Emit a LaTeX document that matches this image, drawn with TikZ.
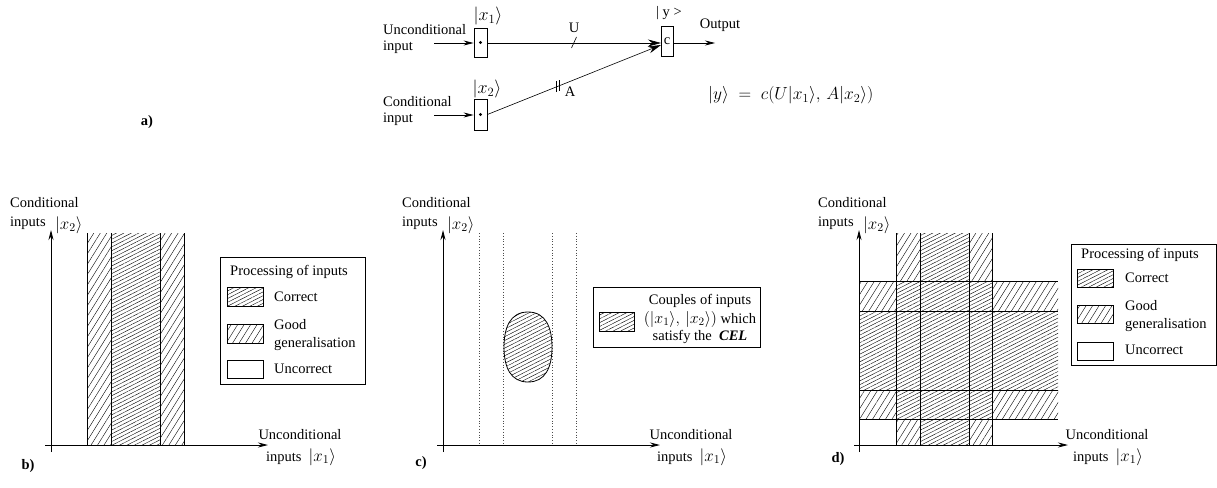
\RequirePackage{fix-cm}
\documentclass[tikz,border=0pt]{standalone}
\usepackage{fontspec}
\setmainfont{Liberation Serif}
\usetikzlibrary{arrows.meta,patterns.meta}
\newcommand\km[1]{{\fontsize{18}{18}\selectfont$#1$}}
\newcommand\kms[1]{{\fontsize{16}{16}\selectfont$#1$}}
\newcommand\kmy[1]{{\fontsize{17}{17}\selectfont$#1$}}
\begin{document}
\begin{tikzpicture}[x=1pt,y=-1pt,
  every node/.style={font=\fontsize{14.5}{18}\selectfont, inner sep=0pt},
  good/.style={pattern={Lines[angle=58,distance=5.5pt,line width=0.4pt]}},
  correct/.style={pattern={Lines[angle=27,distance=3.4pt,line width=0.4pt]}},
  ax/.style={line width=0.9pt,-{Stealth[length=10pt,width=5pt]}},
  band/.style={line width=0.9pt},
  dotline/.style={line width=0.8pt,dotted,black!70},
  boxn/.style={draw,line width=0.8pt,minimum width=13pt,inner sep=0pt},
  sw/.style={draw,line width=0.8pt},
  lgbox/.style={draw,line width=0.8pt},
  inarrow/.style={line width=0.8pt,-{Stealth[length=10pt,width=5pt]}},
  bigarrow/.style={line width=0.6pt,-{Stealth[length=13pt,width=7pt]}},
  lw/.style={anchor=west},
]
\useasboundingbox (0,0) rectangle (1217,487);

%%%%%%%%%%%%%%%% a)
\node[boxn,minimum height=29pt] (x1) at (480.5,42.5) {};
\fill (x1.center) circle[radius=1.6pt];
\node[boxn,minimum height=31pt] (x2) at (480.5,114.5) {};
\fill (x2.center) circle[radius=1.6pt];
\node[boxn,minimum width=12pt,minimum height=30pt] (c) at (667,41) {c};
\coordinate (uin) at (434,43);
\coordinate (cin) at (434,115);
\coordinate (out) at (715,43);
\coordinate (c1) at (661,43);
\coordinate (c2) at (661,45);
\draw[inarrow] (uin) -- (uin -| x1.west);
\draw[inarrow] (cin) -- (cin -| x2.west);
\draw[bigarrow] (uin -| x1.east) -- (c1);
\draw[bigarrow] (x2.east) -- (c2);
\draw[line width=0.8pt,-{Stealth[length=10pt,width=5pt]}] (c.east |- out) -- (out);
% ticks
\coordinate (tu1) at (571.5,48); \coordinate (tu2) at (576.5,37);
\draw[line width=0.6pt] (tu1) -- (tu2);
\coordinate (ta1) at (556,81); \coordinate (ta2) at (556,92);
\coordinate (tb1) at (559,80); \coordinate (tb2) at (559,91);
\draw[line width=0.6pt] (ta1) -- (ta2) (tb1) -- (tb2);
\node (lU) at (574,28) {U};
\node (lA) at (570,92) {A};
\node (lx1) at (488,16) {\km{|x_1\rangle}};
\node (lx2) at (487,89) {\km{|x_2\rangle}};
\node (ly) at (669,13) {| y >};
\node (lout) at (720,25) {Output};
\node[align=left,anchor=west,font=\fontsize{14.5}{16}\selectfont] (lui) at (383,39) {Unconditional\\input};
\node[align=left,anchor=west,font=\fontsize{14.5}{16}\selectfont] (lci) at (383,111) {Conditional\\input};
\node[anchor=west,font=\fontsize{17.5}{19}\selectfont] (eq) at (708,95) {$|y\rangle\;=\;c(U|x_1\rangle,\,A|x_2\rangle)$};
\node (la) at (147,122) {\textbf{a)}};

%%%%%%%%%%%%%%%% b)
\fill[good] (87,233) rectangle (111,445);
\fill[correct] (111,233) rectangle (160,445);
\fill[good] (160,233) rectangle (184,445);
\foreach \x in {87,111,160,184} \draw[band] (\x,233) -- (\x,445);
\coordinate (byb) at (51,452); \coordinate (byt) at (51,230);
\coordinate (bxl) at (45,445); \coordinate (bxr) at (268,445);
\draw[ax] (byb) -- (byt);
\draw[ax] (bxl) -- (bxr);
\node[lw] (bly1) at (10,203) {Conditional};
\node[lw] (bly2) at (10,223) {inputs};
\node[lw] (bly3) at (55,225) {\kmy{|x_2\rangle}};
\node (blx1) at (300,435) {Unconditional};
\node (blx2) at (301,457) {inputs \ \kmy{|x_1\rangle}};
\node (lb) at (28,466) {\textbf{b)}};
% legend b
\node[lgbox,minimum width=145pt,minimum height=127pt] (legb) at (292.5,320.5) {};
\node[anchor=west] (legbt) at (230,272) {Processing of inputs};
\node[sw,good,minimum width=36pt,minimum height=19pt] (bsw2) at (245,333.5) {};
\node[sw,correct,minimum width=36pt,minimum height=19pt] (bsw1) at (245,296.5) {};
\node[sw,minimum width=36pt,minimum height=18pt] (bsw3) at (245,369) {};
\node[anchor=west] (bt1) at (274,297) {Correct};
\node[anchor=west,align=left] (bt2) at (274,335) {Good\\generalisation};
\node[anchor=west] (bt3) at (274,369) {Uncorrect};

%%%%%%%%%%%%%%%% c)
\foreach \x in {479,503,552,576} \draw[dotline] (\x,233) -- (\x,445);
\coordinate (cyb) at (443,452); \coordinate (cyt) at (443,230);
\coordinate (cxl) at (437,445); \coordinate (cxr) at (660,445);
\draw[ax] (cyb) -- (cyt);
\draw[ax] (cxl) -- (cxr);
\draw[line width=0.8pt,correct] (528,312) .. controls (546,312) and (552,328) .. (552,347)
  .. controls (552,368) and (545,382) .. (528,382)
  .. controls (511,382) and (504,368) .. (504,347)
  .. controls (504,328) and (510,312) .. (528,312) -- cycle;
\node[lw] (cly1) at (402,203) {Conditional};
\node[lw] (cly2) at (402,223) {inputs};
\node[lw] (cly3) at (447,225) {\kmy{|x_2\rangle}};
\node (clx1) at (691,435) {Unconditional};
\node (clx2) at (692,457) {inputs \ \kmy{|x_1\rangle}};
\node (lc) at (421,463) {\textbf{c)}};
\node[lgbox,minimum width=167pt,minimum height=60pt] (legc) at (676.5,317) {};
\node[sw,correct,minimum width=35pt,minimum height=19pt] (csw) at (616.5,321.5) {};
\node (ct1) at (700,301) {Couples of inputs};
\node (ct2) at (700,319) {\kms{(|x_1\rangle,\,|x_2\rangle)} which};
\node (ct3) at (700,337) {satisfy the \ \textbf{\textit{CEL}}};

%%%%%%%%%%%%%%%% d)
\fill[good] (896,233) rectangle (920,281);
\fill[correct] (920,233) rectangle (969,281);
\fill[good] (969,233) rectangle (992,281);
\fill[good] (896,419) rectangle (920,445);
\fill[correct] (920,419) rectangle (969,445);
\fill[good] (969,419) rectangle (992,445);
\fill[good] (859,281) rectangle (896,311);
\fill[correct] (896,281) rectangle (992,311);
\fill[good] (992,281) rectangle (1058,311);
\fill[correct] (859,311) rectangle (1058,390);
\fill[good] (859,390) rectangle (896,419);
\fill[correct] (896,390) rectangle (992,419);
\fill[good] (992,390) rectangle (1058,419);
\foreach \x in {896,920,969,992} \draw[band] (\x,233) -- (\x,445);
\foreach \y in {281,311,390,419} \draw[band] (859,\y) -- (1058,\y);
\coordinate (dyb) at (859,452); \coordinate (dyt) at (859,230);
\coordinate (dxl) at (854,445); \coordinate (dxr) at (1068,445);
\draw[ax] (dyb) -- (dyt);
\draw[ax] (dxl) -- (dxr);
\node[lw] (dly1) at (818,203) {Conditional};
\node[lw] (dly2) at (818,223) {inputs};
\node[lw] (dly3) at (863,225) {\kmy{|x_2\rangle}};
\node (dlx1) at (1107,435) {Unconditional};
\node (dlx2) at (1108,457) {inputs \ \kmy{|x_1\rangle}};
\node (ld) at (838,459) {\textbf{d)}};
% legend d
\node[lgbox,minimum width=145pt,minimum height=121pt] (legd) at (1143.5,304.5) {};
\node[anchor=west] (legdt) at (1081,255) {Processing of inputs};
\node[sw,correct,minimum width=36pt,minimum height=18pt] (dsw1) at (1095,278) {};
\node[sw,good,minimum width=36pt,minimum height=18pt] (dsw2) at (1095,314) {};
\node[sw,minimum width=36pt,minimum height=18pt] (dsw3) at (1095,351) {};
\node[anchor=west] (dt1) at (1125,278) {Correct};
\node[anchor=west,align=left] (dt2) at (1125,316.5) {Good\\generalisation};
\node[anchor=west] (dt3) at (1125,350) {Uncorrect};
\end{tikzpicture}
\end{document}
